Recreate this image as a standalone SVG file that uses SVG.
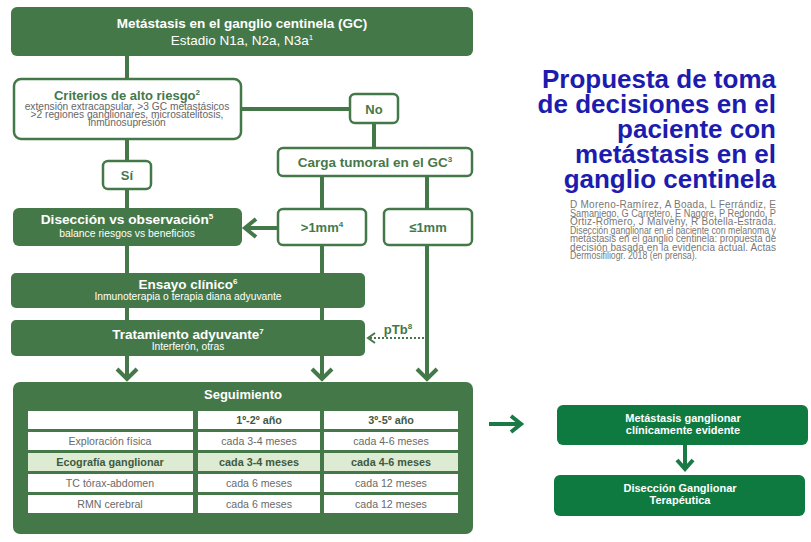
<svg xmlns="http://www.w3.org/2000/svg" width="811" height="542" viewBox="0 0 811 542">
<defs>
<style>
text{font-family:"Liberation Sans",Arial,sans-serif}
.fill{fill:#457849}
.wbox{fill:#fff;stroke:#457849;stroke-width:2.5}
.line{stroke:#457849;stroke-width:4;fill:none}
.chev{stroke:#457849;stroke-width:4;fill:none;stroke-linejoin:miter}
.wt{fill:#fff;text-anchor:middle;font-weight:bold}
.ws{fill:#fff;text-anchor:middle}
.gt{fill:#457849;text-anchor:middle;font-weight:bold}
.gs{fill:#666;text-anchor:middle;font-size:10.2px}
.cell{fill:#fff}
.hl{fill:#dcebd2}
.tt{fill:#6a6a6a;text-anchor:middle;font-size:10.6px}
.tb{fill:#3f5a40;text-anchor:middle;font-size:10.8px;font-weight:bold}
.rbox{fill:#0f7a40}
.rt{fill:#fff;text-anchor:middle;font-weight:bold;font-size:11px}
.title{fill:#1c1cae;font-weight:bold;font-size:26px;text-anchor:end}
.cite{fill:#777;font-size:10px}
</style>
</defs>

<g id="connectors">
  <line class="line" x1="127" y1="56" x2="127" y2="79"/>
  <line class="line" x1="241" y1="109" x2="350" y2="109"/>
  <line class="line" x1="374" y1="123" x2="374" y2="148"/>
  <line class="line" x1="127" y1="139" x2="127" y2="161"/>
  <line class="line" x1="127" y1="189" x2="127" y2="209"/>
  <line class="line" x1="322" y1="176" x2="322" y2="209"/>
  <line class="line" x1="427" y1="176" x2="427" y2="209"/>
  <line class="line" x1="277" y1="228" x2="246" y2="228"/>
  <polyline class="chev" points="256,219 245,228 256,237"/>
  <line class="line" x1="127" y1="245" x2="127" y2="379"/>
  <line class="line" x1="322" y1="245" x2="322" y2="379"/>
  <line class="line" x1="427" y1="245" x2="427" y2="379"/>
  <polyline class="chev" points="117,369 127,379 137,369"/>
  <polyline class="chev" points="312,369 322,379 332,369"/>
  <polyline class="chev" points="417,369 427,379 437,369"/>
  <line x1="424" y1="338" x2="369" y2="338" stroke="#457849" stroke-width="2" stroke-dasharray="2 2"/>
  <polyline points="375,333 368,338 375,343" stroke="#457849" stroke-width="2" fill="none"/>
  <text x="398" y="334" font-size="13" font-weight="bold" fill="#457849" text-anchor="middle">pTb<tspan font-size="8" dy="-5">8</tspan></text>
  <line x1="489" y1="424" x2="520" y2="424" stroke="#1a7a45" stroke-width="4"/>
  <polyline points="511,416 521,424 511,432" stroke="#1a7a45" stroke-width="4" fill="none"/>
  <line x1="685" y1="445" x2="685" y2="468" stroke="#1a7a45" stroke-width="4"/>
  <polyline points="677,460 685,469 693,460" stroke="#1a7a45" stroke-width="4" fill="none"/>
</g>

<g id="node-metastasis">
  <rect class="fill" x="11" y="7" width="462" height="49" rx="6"/>
  <text class="wt" x="242" y="28" font-size="13.5">Metástasis en el ganglio centinela (GC)</text>
  <text class="ws" x="242" y="45" font-size="13.5">Estadio N1a, N2a, N3a<tspan font-size="8" dy="-5">1</tspan></text>
</g>

<g id="node-criterios">
  <rect class="wbox" x="14" y="79" width="227" height="60" rx="7"/>
  <text class="gt" x="127" y="100" font-size="13">Criterios de alto riesgo<tspan font-size="8" dy="-5">2</tspan></text>
  <text class="gs" x="127" y="110">extensión extracapsular, &gt;3 GC metastásicos</text>
  <text class="gs" x="127" y="118">&gt;2 regiones ganglionares, microsatelitosis,</text>
  <text class="gs" x="127" y="126">inmunosupresión</text>
</g>

<g id="node-no">
  <rect class="wbox" x="350" y="94" width="48" height="29" rx="5"/>
  <text class="gt" x="374" y="114" font-size="13">No</text>
</g>

<g id="node-carga">
  <rect class="wbox" x="278" y="148" width="194" height="28" rx="5"/>
  <text class="gt" x="375" y="167" font-size="13.5">Carga tumoral en el GC<tspan font-size="8" dy="-5">3</tspan></text>
</g>

<g id="node-si">
  <rect class="wbox" x="103" y="161" width="48" height="28" rx="5"/>
  <text class="gt" x="127" y="180" font-size="13">Sí</text>
</g>

<g id="node-diseccion">
  <rect class="fill" x="13" y="208" width="229" height="38" rx="6"/>
  <text class="wt" x="127" y="224" font-size="13.7">Disección vs observación<tspan font-size="8" dy="-5">5</tspan></text>
  <text class="ws" x="127" y="237" font-size="10.4">balance riesgos vs beneficios</text>
</g>

<g id="node-mayor1mm">
  <rect class="wbox" x="278" y="209" width="88" height="36" rx="5"/>
  <text class="gt" x="322" y="232" font-size="13">&gt;1mm<tspan font-size="8" dy="-5">4</tspan></text>
</g>

<g id="node-menor1mm">
  <rect class="wbox" x="384" y="209" width="88" height="36" rx="5"/>
  <text class="gt" x="428" y="232" font-size="13">≤1mm</text>
</g>

<g id="node-ensayo">
  <rect class="fill" x="11" y="273" width="354" height="35" rx="5"/>
  <text class="wt" x="188" y="289" font-size="13.5">Ensayo clínico<tspan font-size="8" dy="-5">6</tspan></text>
  <text class="ws" x="188" y="300" font-size="10.3">Inmunoterapia o terapia diana adyuvante</text>
</g>

<g id="node-tratamiento">
  <rect class="fill" x="11" y="320" width="354" height="36" rx="5"/>
  <text class="wt" x="188" y="339" font-size="13.5">Tratamiento adyuvante<tspan font-size="8" dy="-5">7</tspan></text>
  <text class="ws" x="188" y="350" font-size="10.3">Interferón, otras</text>
</g>

<g id="node-seguimiento">
  <rect class="fill" x="13" y="382" width="460" height="152" rx="7"/>
  <text class="wt" x="243" y="399" font-size="13">Seguimiento</text>
  <rect class="cell" x="28" y="411" width="165" height="18"/>
  <rect class="cell" x="198" y="411" width="122" height="18"/>
  <rect class="cell" x="324" y="411" width="134" height="18"/>
  <rect class="cell" x="28" y="432" width="165" height="18"/>
  <rect class="cell" x="198" y="432" width="122" height="18"/>
  <rect class="cell" x="324" y="432" width="134" height="18"/>
  <rect class="hl" x="28" y="453" width="165" height="18"/>
  <rect class="hl" x="198" y="453" width="122" height="18"/>
  <rect class="hl" x="324" y="453" width="134" height="18"/>
  <rect class="cell" x="28" y="474" width="165" height="18"/>
  <rect class="cell" x="198" y="474" width="122" height="18"/>
  <rect class="cell" x="324" y="474" width="134" height="18"/>
  <rect class="cell" x="28" y="495" width="165" height="18"/>
  <rect class="cell" x="198" y="495" width="122" height="18"/>
  <rect class="cell" x="324" y="495" width="134" height="18"/>
  <text class="tb" x="259" y="424">1º-2º año</text>
  <text class="tb" x="391" y="424">3º-5º año</text>
  <text class="tt" x="110" y="445">Exploración física</text>
  <text class="tt" x="259" y="445">cada 3-4 meses</text>
  <text class="tt" x="391" y="445">cada 4-6 meses</text>
  <text class="tb" x="110" y="466">Ecografía ganglionar</text>
  <text class="tb" x="259" y="466">cada 3-4 meses</text>
  <text class="tb" x="391" y="466">cada 4-6 meses</text>
  <text class="tt" x="110" y="487">TC tórax-abdomen</text>
  <text class="tt" x="259" y="487">cada 6 meses</text>
  <text class="tt" x="391" y="487">cada 12 meses</text>
  <text class="tt" x="110" y="508">RMN cerebral</text>
  <text class="tt" x="259" y="508">cada 6 meses</text>
  <text class="tt" x="391" y="508">cada 12 meses</text>
</g>

<g id="title">
  <text class="title" x="776" y="88">Propuesta de toma</text>
  <text class="title" x="776" y="113">de decisiones en el</text>
  <text class="title" x="776" y="138">paciente con</text>
  <text class="title" x="776" y="163">metástasis en el</text>
  <text class="title" x="776" y="188">ganglio centinela</text>
</g>

<g id="citation">
  <text class="cite" x="570" y="208" textLength="206" lengthAdjust="spacing">D Moreno-Ramírez, A Boada, L Ferrándiz, E</text>
  <text class="cite" x="570" y="216.5" textLength="206" lengthAdjust="spacingAndGlyphs">Samaniego, G Carretero, E Nagore, P Redondo, P</text>
  <text class="cite" x="570" y="225" textLength="206" lengthAdjust="spacing">Ortiz-Romero, J Malvehy, R Botella-Estrada.</text>
  <text class="cite" x="570" y="233.5" textLength="206" lengthAdjust="spacingAndGlyphs">Disección ganglionar en el paciente con melanoma y</text>
  <text class="cite" x="570" y="242" textLength="206" lengthAdjust="spacingAndGlyphs">metástasis en el ganglio centinela: propuesta de</text>
  <text class="cite" x="570" y="250.5" textLength="206" lengthAdjust="spacing">decisión basada en la evidencia actual. Actas</text>
  <text class="cite" x="570" y="259" textLength="127" lengthAdjust="spacingAndGlyphs">Dermosifiliogr. 2018 (en prensa).</text>
</g>

<g id="node-clinica">
  <rect class="rbox" x="557" y="405" width="251" height="40" rx="6"/>
  <text class="rt" x="683" y="422">Metástasis ganglionar</text>
  <text class="rt" x="683" y="434">clínicamente evidente</text>
</g>

<g id="node-terapeutica">
  <rect class="rbox" x="554" y="475" width="251" height="41" rx="6"/>
  <text class="rt" x="680" y="492">Disección Ganglionar</text>
  <text class="rt" x="680" y="504">Terapéutica</text>
</g>
</svg>
